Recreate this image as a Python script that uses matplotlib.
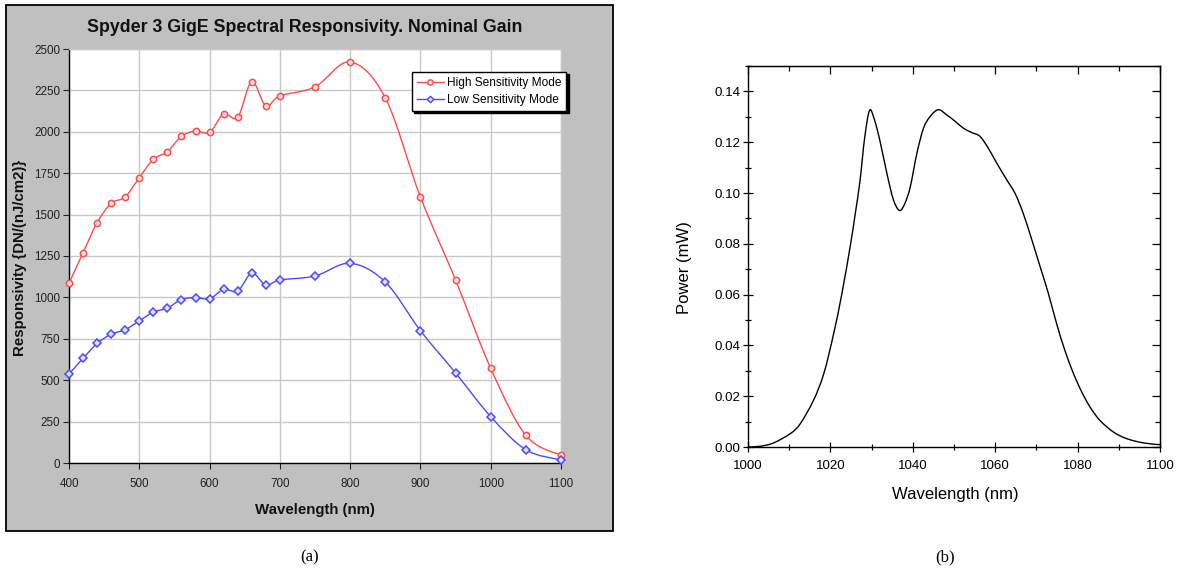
import numpy as np
import matplotlib
matplotlib.use("Agg")
import matplotlib.pyplot as plt
from matplotlib.path import Path
from matplotlib.patches import PathPatch, Rectangle
from matplotlib.lines import Line2D
from matplotlib.ticker import MultipleLocator, FormatStrFormatter

# ---------------- data: (a) camera spectral responsivity ----------------
wl_resp = [400, 420, 440, 460, 480, 500, 520, 540, 560, 580, 600, 620, 640,
           660, 680, 700, 750, 800, 850, 900, 950, 1000, 1050, 1100]
high_mode = [1085, 1270, 1451, 1568, 1607, 1723, 1834, 1880, 1973, 2005, 1997,
             2108, 2088, 2303, 2156, 2217, 2271, 2422, 2205, 1607, 1105, 572,
             167, 46]
low_mode = [537, 632, 722, 778, 805, 858, 911, 936, 987, 999, 992, 1048, 1039,
            1146, 1075, 1105, 1129, 1206, 1093, 799, 544, 280, 80, 18]
series_names = ["High Sensitivity Mode", "Low Sensitivity Mode"]
resp_xticks = [400, 500, 600, 700, 800, 900, 1000, 1100]
resp_yticks = [0, 250, 500, 750, 1000, 1250, 1500, 1750, 2000, 2250, 2500]

# ---------------- data: (b) laser output spectrum ----------------
wl_spec = [1000, 1003, 1006.2, 1010.3, 1012.7, 1015.9, 1018.4, 1020.8, 1022.8,
           1024.8, 1026.0, 1027.2, 1028.3, 1029.5, 1030.7, 1032.1, 1033.7,
           1035.3, 1036.8, 1038.1, 1039.4, 1041.0, 1042.6, 1044.2, 1046.2,
           1048.2, 1050.3, 1052.3, 1054.3, 1056.3, 1058.3, 1060.4, 1062.8,
           1064.8, 1066.8, 1068.9, 1070.9, 1072.9, 1074.9, 1076.9, 1079.0,
           1081.0, 1083.0, 1085.4, 1088.7, 1091.9, 1096.0, 1100]
power_mw = [0.0, 0.0003, 0.0016, 0.0053, 0.0092, 0.0184, 0.0289, 0.0447,
            0.0605, 0.0789, 0.0915, 0.1050, 0.1215, 0.1325, 0.1288, 0.1200,
            0.1078, 0.0973, 0.0931, 0.0960, 0.1025, 0.1157, 0.1255, 0.1301,
            0.1328, 0.1308, 0.1282, 0.1255, 0.1238, 0.1223, 0.1177, 0.1117,
            0.1052, 0.0999, 0.0920, 0.0815, 0.0710, 0.0605, 0.0486, 0.0381,
            0.0289, 0.0217, 0.0158, 0.0105, 0.0059, 0.0033, 0.0016, 0.0009]

W, H = 1181, 576


def fig_rect(x0, y0, x1, y1):
    """Pixel box (top-left origin) -> figure fraction rect."""
    return [x0 / W, 1 - y1 / H, (x1 - x0) / W, (y1 - y0) / H]


def smooth_path(x, y, tension=1 / 6):
    """Cubic Bezier path through the points (spreadsheet-style smoothed line)."""
    p = np.column_stack([x, y]).astype(float)
    n = len(p)
    verts = [p[0]]
    codes = [Path.MOVETO]
    for i in range(n - 1):
        p0 = p[i - 1] if i > 0 else p[i]
        p1 = p[i]
        p2 = p[i + 1]
        p3 = p[i + 2] if i + 2 < n else p[i + 1]
        c1 = p1 + (p2 - p0) * tension
        c2 = p2 - (p3 - p1) * tension
        verts += [c1, c2, p2]
        codes += [Path.CURVE4] * 3
    return Path(verts, codes)


fig = plt.figure(figsize=(W / 100, H / 100), dpi=100)
fig.patch.set_facecolor("white")

sans = ["Liberation Sans", "DejaVu Sans"]
serif = ["Liberation Serif", "DejaVu Serif"]

# grey chart-area frame of panel (a)
fig.add_artist(Rectangle((6 / W, 1 - 531 / H), 607 / W, 526 / H,
                         transform=fig.transFigure, facecolor="#c0c0c0",
                         edgecolor="black", lw=1.3, zorder=0))

# ---------------- panel (a) ----------------
ax1 = fig.add_axes(fig_rect(69, 49, 561, 463))
ax1.set_facecolor("white")
ax1.set_xlim(400, 1100)
ax1.set_ylim(0, 2500)
ax1.set_xticks(resp_xticks)
ax1.set_yticks(resp_yticks)
ax1.grid(True, color="#c8c8c8", lw=1.0)
ax1.set_axisbelow(True)
for side in ("top", "right"):
    ax1.spines[side].set_color("#c8c8c8")
    ax1.spines[side].set_linewidth(1.0)
for side in ("left", "bottom"):
    ax1.spines[side].set_color("black")
    ax1.spines[side].set_linewidth(1.0)
ax1.tick_params(direction="out", length=4, width=0.8, labelsize=8.4,
                colors="#222222")
ax1.tick_params(axis="x", pad=7)
ax1.tick_params(axis="y", pad=2.5)
for lab in ax1.get_xticklabels() + ax1.get_yticklabels():
    lab.set_family(sans)

red = "#ff4a4a"
blue = "#4a4aff"
ax1.add_patch(PathPatch(smooth_path(wl_resp, high_mode), fc="none", ec=red,
                        lw=1.0, zorder=3))
ax1.add_patch(PathPatch(smooth_path(wl_resp, low_mode), fc="none", ec=blue,
                        lw=1.0, zorder=3))
ax1.plot(wl_resp, high_mode, ls="none", marker="o", ms=4.5, mfc="#ffe0e0",
         mec=red, mew=1.1, zorder=4, clip_on=False)
ax1.plot(wl_resp, low_mode, ls="none", marker="D", ms=3.9, mfc="#e0e0ff",
         mec=blue, mew=1.1, zorder=4, clip_on=False)

handles = [
    Line2D([], [], color=red, lw=1.0, marker="o", ms=3.8, mfc="#ffe0e0",
           mec=red, mew=1.0),
    Line2D([], [], color=blue, lw=1.0, marker="D", ms=3.3, mfc="#e0e0ff",
           mec=blue, mew=1.0),
]
leg = ax1.legend(handles, series_names, loc="upper left",
                 bbox_to_anchor=(0.697, 0.944), fancybox=False,
                 shadow={"color": "black", "alpha": 1.0, "ox": 1.6, "oy": -1.6},
                 edgecolor="black", framealpha=1, borderpad=0.4,
                 handlelength=2.3, handletextpad=0.25, labelspacing=0.45,
                 borderaxespad=0, prop={"family": sans, "size": 8.6})
leg.get_frame().set_linewidth(1.0)
leg.set_zorder(6)

fig.text(305 / W, 1 - 28 / H, "Spyder 3 GigE Spectral Responsivity. Nominal Gain",
         ha="center", va="center", fontsize=12.8, fontweight="bold",
         family=sans, color="#111111")
fig.text(315 / W, 1 - 510 / H, "Wavelength (nm)", ha="center", va="center",
         fontsize=10.8, fontweight="bold", family=sans, color="#111111")
fig.text(20 / W, 1 - 258 / H, "Responsivity {DN/(nJ/cm2)}", ha="center",
         va="center", rotation=90, fontsize=10.8, fontweight="bold",
         family=sans, color="#111111")

# ---------------- panel (b) ----------------
ax2 = fig.add_axes(fig_rect(748, 66, 1160, 447))
ax2.set_xlim(1000, 1100)
ax2.set_ylim(0, 0.15)
ax2.xaxis.set_major_locator(MultipleLocator(20))
ax2.xaxis.set_minor_locator(MultipleLocator(10))
ax2.yaxis.set_major_locator(MultipleLocator(0.02))
ax2.yaxis.set_minor_locator(MultipleLocator(0.01))
ax2.yaxis.set_major_formatter(FormatStrFormatter("%.2f"))
for sp in ax2.spines.values():
    sp.set_linewidth(1.0)
ax2.tick_params(which="major", direction="inout", length=7, width=0.9,
                labelsize=9.6)
ax2.tick_params(which="minor", direction="inout", length=4.5, width=0.9)
ax2.tick_params(axis="x", pad=6)
ax2.tick_params(axis="y", pad=2)
for lab in ax2.get_xticklabels() + ax2.get_yticklabels():
    lab.set_family(sans)

top = ax2.secondary_xaxis("top")
top.xaxis.set_major_locator(MultipleLocator(20))
top.xaxis.set_minor_locator(MultipleLocator(10))
top.tick_params(which="major", direction="in", length=5.5, width=0.9,
                labeltop=False)
top.tick_params(which="minor", direction="in", length=3.5, width=0.9)
right = ax2.secondary_yaxis("right")
right.yaxis.set_major_locator(MultipleLocator(0.02))
right.yaxis.set_minor_locator(MultipleLocator(0.01))
right.tick_params(which="major", direction="in", length=5.5, width=0.9,
                  labelright=False)
right.tick_params(which="minor", direction="in", length=3.5, width=0.9)

ax2.add_patch(PathPatch(smooth_path(wl_spec, power_mw), fc="none", ec="black",
                        lw=1.0, zorder=3))

fig.text(955 / W, 1 - 494 / H, "Wavelength (nm)", ha="center", va="center",
         fontsize=12, family=sans)
fig.text(684 / W, 1 - 268 / H, "Power (mW)", ha="center", va="center",
         rotation=90, fontsize=12, family=sans)

# captions
fig.text(310 / W, 1 - 557 / H, "(a)", ha="center", va="center", fontsize=12,
         family=serif)
fig.text(945 / W, 1 - 557 / H, "(b)", ha="center", va="center", fontsize=12,
         family=serif)

fig.savefig("out.png", dpi=100)
